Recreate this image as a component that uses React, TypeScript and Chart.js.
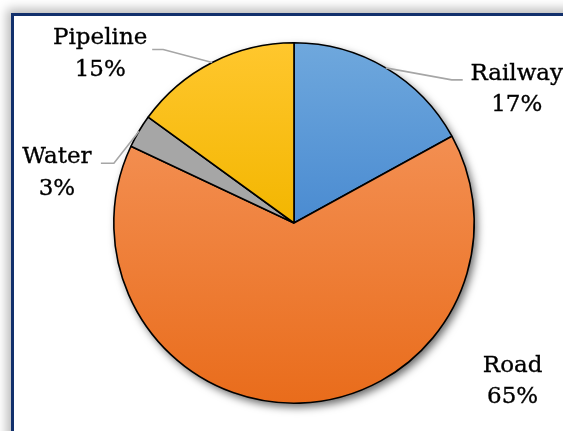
import React, { useEffect, useRef } from "react";
import { Chart, registerables } from "chart.js";

Chart.register(...registerables);

// ---- data ----
const categories = ["Railway", "Road", "Water", "Pipeline"];
const shares = [17, 65, 3, 15];
const percentLabels = ["17%", "65%", "3%", "15%"];

// ---- styles ----
const topColors = ["#6FA8DD", "#F38F52", "#A6A6A6", "#FFC72E"];
const bottomColors = ["#4A8BD1", "#E96C1B", "#A6A6A6", "#F3B600"];

// label placement relative to the slice's outer mid-point (dx, dy)
type LabelCfg = { text: [number, number]; gap: number; leader?: [number, number][] };
const labelCfg: LabelCfg[] = [
  { text: [131, 12], gap: 31, leader: [[66, 12], [77, 12]] },
  { text: [213, -31], gap: 31 },
  { text: [-82, 32], gap: 32, leader: [[-3, 4], [-25, 32], [-38, 32]] },
  { text: [-112, -18], gap: 32, leader: [[-49, -13], [-60, -13]] },
];

function sliceGradient(ctx: any) {
  const chart = ctx.chart;
  const i = ctx.dataIndex;
  const area = chart.chartArea;
  if (!area) return topColors[i];
  const cx = (area.left + area.right) / 2;
  const cy = (area.top + area.bottom) / 2;
  const r = Math.min(area.right - area.left, area.bottom - area.top) / 2;
  const total = shares.reduce((a, b) => a + b, 0);
  let cum = 0;
  for (let k = 0; k < i; k++) cum += shares[k];
  const s = -Math.PI / 2 + (2 * Math.PI * cum) / total;
  const e = -Math.PI / 2 + (2 * Math.PI * (cum + shares[i])) / total;
  const ys = [cy, cy + r * Math.sin(s), cy + r * Math.sin(e)];
  const inRange = (a: number) => {
    let t = a;
    while (t < s) t += 2 * Math.PI;
    return t <= e;
  };
  if (inRange(-Math.PI / 2)) ys.push(cy - r);
  if (inRange(Math.PI / 2)) ys.push(cy + r);
  const y0 = Math.min(...ys);
  const y1 = Math.max(...ys);
  const g = chart.ctx.createLinearGradient(0, y0, 0, Math.max(y1, y0 + 1));
  g.addColorStop(0, topColors[i]);
  g.addColorStop(1, bottomColors[i]);
  return g;
}

const shadowPlugin = {
  id: "pieShadow",
  beforeDatasetsDraw(chart: any) {
    const arc = chart.getDatasetMeta(0).data[0];
    if (!arc) return;
    const { x, y, outerRadius } = arc.getProps(["x", "y", "outerRadius"], true);
    const ctx = chart.ctx;
    ctx.save();
    ctx.shadowColor = "rgba(0,0,0,0.6)";
    ctx.shadowBlur = 9;
    ctx.shadowOffsetX = 3;
    ctx.shadowOffsetY = 4;
    ctx.beginPath();
    ctx.arc(x, y, outerRadius, 0, Math.PI * 2);
    ctx.fillStyle = "#ffffff";
    ctx.fill();
    ctx.restore();
  },
};

const labelPlugin = {
  id: "sliceLabels",
  afterDatasetsDraw(chart: any) {
    const ctx = chart.ctx;
    const meta = chart.getDatasetMeta(0);
    meta.data.forEach((arc: any, i: number) => {
      const { x, y, startAngle, endAngle, outerRadius } = arc.getProps(
        ["x", "y", "startAngle", "endAngle", "outerRadius"],
        true
      );
      const mid = (startAngle + endAngle) / 2;
      const ax = x + outerRadius * Math.cos(mid);
      const ay = y + outerRadius * Math.sin(mid);
      const cfg = labelCfg[i];
      ctx.save();
      if (cfg.leader) {
        ctx.strokeStyle = "#A6A6A6";
        ctx.lineWidth = 1.6;
        ctx.beginPath();
        ctx.moveTo(ax, ay);
        cfg.leader.forEach(([dx, dy]) => ctx.lineTo(ax + dx, ay + dy));
        ctx.stroke();
      }
      ctx.fillStyle = "#000000";
      ctx.strokeStyle = "#000000";
      ctx.lineWidth = 0.35;
      ctx.font = '23px "DejaVu Serif"';
      ctx.textAlign = "center";
      ctx.textBaseline = "alphabetic";
      const tx = ax + cfg.text[0];
      const ty = ay + cfg.text[1];
      ctx.fillText(categories[i], tx, ty);
      ctx.strokeText(categories[i], tx, ty);
      ctx.fillText(percentLabels[i], tx, ty + cfg.gap);
      ctx.strokeText(percentLabels[i], tx, ty + cfg.gap);
      ctx.restore();
    });
  },
};

export default function App() {
  const ref = useRef<HTMLCanvasElement | null>(null);
  useEffect(() => {
    if (!ref.current) return;
    const chart = new Chart(ref.current, {
      type: "pie",
      data: {
        labels: categories,
        datasets: [
          {
            data: shares,
            backgroundColor: sliceGradient as any,
            borderColor: "#000000",
            borderWidth: 1.6,
          },
        ],
      },
      options: {
        responsive: false,
        animation: false,
        layout: { padding: { left: 113, right: 88, top: 42, bottom: 27 } },
        plugins: { legend: { display: false }, tooltip: { enabled: false } },
      },
      plugins: [shadowPlugin, labelPlugin],
    });
    return () => chart.destroy();
  }, []);

  return (
    <div
      style={{
        position: "fixed",
        left: 0,
        top: 0,
        width: 563,
        height: 431,
        overflow: "hidden",
        background: "#ffffff",
      }}
    >
      <div
        style={{
          position: "absolute",
          left: 11,
          top: 13,
          width: 620,
          height: 500,
          borderLeft: "3px solid #12306C",
          borderTop: "3px solid #12306C",
          background: "#ffffff",
          boxShadow: "0 0 10px 4px rgba(0,0,0,0.28)",
        }}
      />
      <canvas
        ref={ref}
        width={563}
        height={431}
        style={{ position: "absolute", left: 0, top: 0 }}
      />
    </div>
  );
}
